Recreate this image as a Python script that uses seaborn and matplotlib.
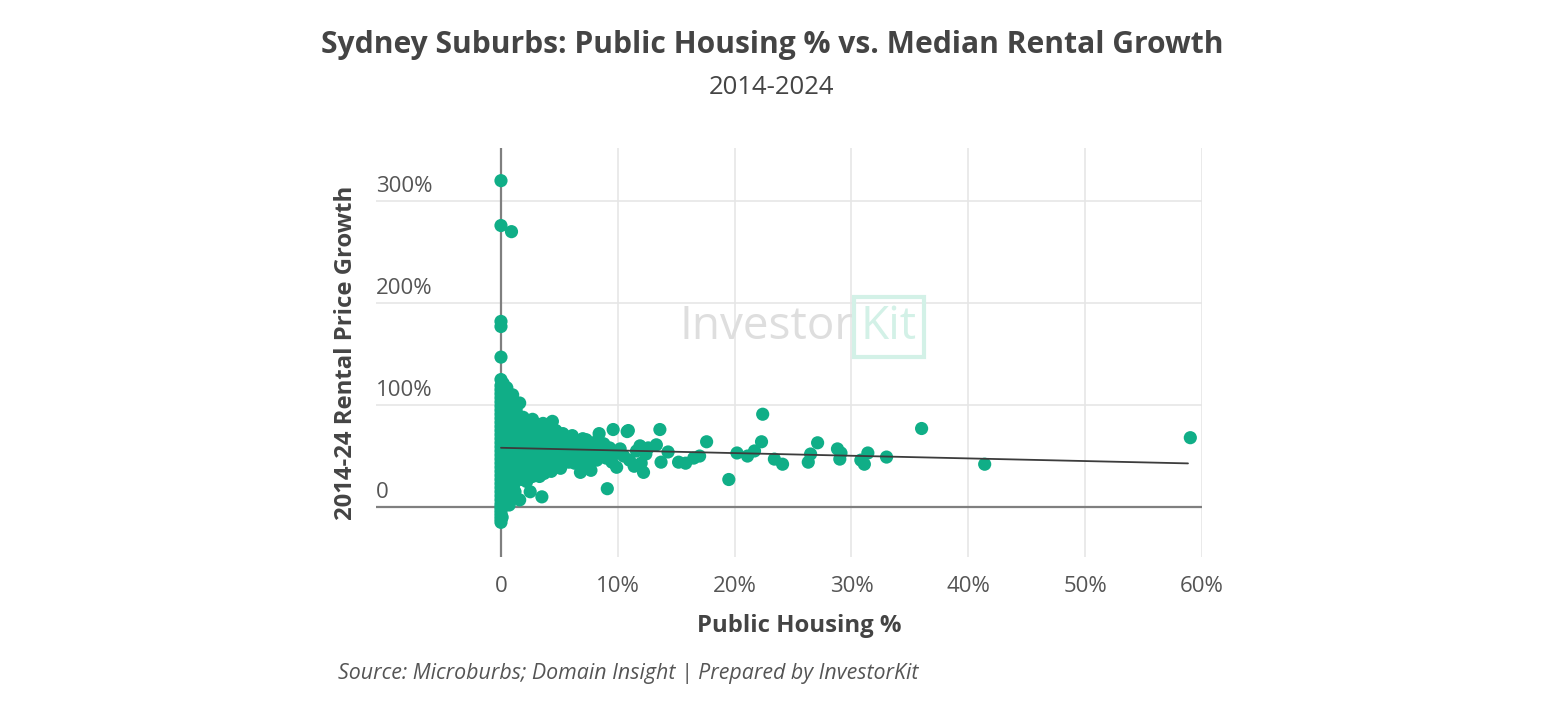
import numpy as np
import pandas as pd
import matplotlib
matplotlib.use('Agg')
import matplotlib.pyplot as plt
import matplotlib.transforms as mtransforms
import seaborn as sns

# Public housing share (%) and 2014-24 rental price growth (%) per suburb
housing_pct = [
    # outliers near zero
    0, 0, 0.9, 0, 0, 0, 0, 0.2,
    # suburbs with zero public housing
    0, 0, 0, 0, 0, 0, 0, 0, 0, 0, 0, 0, 0, 0, 0, 0, 0, 0,
    0, 0, 0, 0, 0, 0, 0, 0, 0, 0, 0, 0, 0, 0, 0, 0, 0, 0,
    # 0.1 - 0.5
    0.1, 0.3, 0.2, 0.4, 0.1, 0.3, 0.2, 0.4, 0.1, 0.3, 0.2, 0.4, 0.1, 0.3,
    0.2, 0.4, 0.1, 0.3, 0.2, 0.4, 0.3, 0.5,
    # 0.5 - 1.0
    0.6, 0.8, 0.5, 0.9, 0.7, 0.6, 0.9, 0.5, 0.8, 0.6, 0.9, 0.7, 0.5, 0.8,
    0.6, 0.9, 0.7, 1.0,
    0.5, 0.9, 1.2, 0.7, 1.0, 0.8, 1.3, 1.0, 0.7, 1.2, 0.5, 1.0,
    # 1.0 - 1.6
    1.1, 1.4, 1.2, 1.5, 1.1, 1.3, 1.6, 1.2, 1.4, 1.1, 1.5, 1.6, 1.6, 1.3,
    # 1.7 - 2.5
    1.8, 2.1, 1.9, 2.3, 2.0, 2.4, 1.8, 2.2, 2.5, 2.0, 2.5, 2.3, 1.9,
    1.7, 2.2, 2.6, 1.9, 2.4, 2.8, 1.6, 2.1, 2.7, 2.3, 2.9, 1.7,
    # 2.6 - 3.4
    2.7, 3.0, 3.3, 2.8, 3.1, 2.6, 3.4, 2.9, 3.2, 3.0, 2.7,
    # 3.5 - 4.5
    3.5, 3.7, 3.6, 4.0, 3.8, 4.3, 3.9, 4.2, 3.6, 4.4, 4.1, 4.5, 4.0,
    3.3, 3.5, 3.9, 4.2, 4.6, 3.2, 4.7, 3.4, 4.3, 4.8, 3.7, 4.5,
    # 4.6 - 6.0
    4.8, 5.2, 4.7, 5.5, 5.0, 5.3, 5.8, 5.6, 6.0, 4.9, 5.9, 5.1,
    5.4, 5.7, 6.2, 6.5, 5.0, 6.7, 6.1,
    # 6.1 - 8.0
    6.3, 6.8, 6.6, 7.1, 6.4, 7.0, 7.4, 7.7, 7.6, 7.9, 7.2, 6.9, 7.3,
    # 8.0 - 10.0
    8.2, 8.4, 8.6, 8.8, 9.1, 9.0, 9.3, 9.6, 9.5, 9.9, 9.8, 8.3,
    # 10.0 - 12.6
    10.2, 10.5, 10.9, 11.0, 11.4, 11.6, 11.9, 12.2, 12.0, 12.4, 12.6, 10.8,
    # sparse tail
    13.3, 13.6, 13.7, 14.3, 15.2, 15.8, 16.5, 17.0, 17.6, 19.5, 20.2, 21.1,
    21.7, 22.4, 22.3, 23.4, 24.1, 26.3, 26.5, 27.1, 28.8, 29.0, 29.1, 30.8,
    31.1, 31.4, 33.0, 36.0, 41.4, 59.0,
]
rent_growth = [
    320, 276, 270, 182, 177, 147, 125, 121,
    -15, -12, -9, -6, -3, 0, 3, 7, 11, 15, 19, 23, 27, 31, 35, 39, 43, 47,
    51, 55, 59, 63, 67, 71, 75, 79, 83, 87, 91, 95, 99, 103, 107, 111, 115, 119,
    -10, 2, 9, 14, 21, 26, 33, 38, 44, 49, 56, 61, 66, 72,
    78, 83, 88, 94, 100, 105, 112, 117,
    6, 18, 24, 30, 36, 42, 47, 53, 58, 64, 69, 75, 81, 86,
    92, 98, 105, 90,
    12, 10, 15, 2, 28, 40, 44, 60, 70, 82, 95, 110,
    22, 28, 35, 41, 48, 54, 60, 66, 72, 78, 84, 102, 7, 95,
    27, 33, 40, 46, 52, 58, 64, 70, 76, 83, 15, 38, 88,
    45, 25, 35, 55, 65, 55, 72, 78, 86, 50, 42, 35,
    30, 36, 43, 49, 55, 61, 67, 73, 80, 64, 44,
    10, 33, 40, 46, 52, 58, 64, 70, 82, 84, 38, 50, 76,
    30, 47, 57, 44, 62, 74, 75, 59, 35, 48, 68, 56,
    41, 47, 54, 60, 66, 72, 44, 53, 57, 62, 65, 38,
    51, 67, 46, 55, 42, 64, 70,
    43, 34, 50, 56, 62, 67, 45, 36, 52, 60, 64, 40, 66,
    46, 72, 54, 62, 18, 48, 58, 76, 44, 39, 53, 66,
    57, 50, 75, 46, 40, 55, 60, 34, 43, 52, 58, 74,
    61, 76, 44, 54, 44, 43, 48, 50, 64, 27, 53, 50,
    55, 91, 64, 47, 42, 44, 52, 63, 57, 47, 53, 46,
    42, 53, 49, 77, 42, 68,
]

# trend line
trend_x = [0, 58.8]
trend_y = [58.1, 42.8]

x_ticks = [0, 10, 20, 30, 40, 50, 60]
y_ticks = [0, 100, 200, 300]

df = pd.DataFrame({'housing': housing_pct, 'growth': rent_growth})

sns.set_theme(style='white')
plt.rcParams['font.family'] = ['Open Sans', 'DejaVu Sans']

fig = plt.figure(figsize=(15.44, 7.27), dpi=100)
ax = fig.add_axes([0.2435, 0.2338, 0.535, 0.5626])

# grid
for xv in x_ticks:
    ax.axvline(xv, color='#e6e6e6', lw=1.2, zorder=0)
for yv in y_ticks:
    ax.axhline(yv, color='#e6e6e6', lw=1.2, zorder=0)
ax.axhline(0, color='#7f7f7f', lw=1.6, zorder=1)
ax.axvline(0, color='#7f7f7f', lw=1.6, zorder=1)

sns.scatterplot(data=df, x='housing', y='growth', ax=ax, color='#10ae87',
                s=90, edgecolor='none', linewidth=0, zorder=3)
ax.plot(trend_x, trend_y, color='#3c3c3c', lw=1.3, zorder=4)

ax.set_xlim(-10.7, 60)
ax.set_ylim(-49, 352)
for s in ax.spines.values():
    s.set_visible(False)

ax.set_xticks(x_ticks)
ax.set_xticklabels(['0' if v == 0 else f'{v}%' for v in x_ticks],
                   fontsize=16, color='#555555')
ax.tick_params(axis='x', length=0, pad=14)
ax.set_yticks([])

# y labels sit above their grid lines, left aligned
trans = mtransforms.blended_transform_factory(ax.transAxes, ax.transData)
offset = mtransforms.offset_copy(trans, fig=fig, x=0, y=3, units='points')
for yv in y_ticks:
    ax.text(0.0, yv, '0' if yv == 0 else f'{yv}%', transform=offset,
            ha='left', va='bottom', fontsize=16, color='#555555')

ax.set_xlabel('Public Housing %', fontsize=17.2, fontweight='bold',
              color='#444444')
ax.xaxis.set_label_coords(0.512, -0.14)
ax.set_ylabel('2014-24 Rental Price Growth', fontsize=17.2, fontweight='bold',
              color='#444444')
ax.yaxis.set_label_coords(-0.022, 0.5)

# watermark
ax.text(0.368, 0.562, 'Investor', transform=ax.transAxes, fontsize=33,
        color='#dedede', ha='left', va='center', zorder=2)
ax.text(0.621, 0.562, 'Kit', transform=ax.transAxes, fontsize=33,
        color='#d3f1e7', ha='center', va='center', zorder=2,
        bbox=dict(boxstyle='square,pad=0.15', fc='none', ec='#d3f1e7', lw=3))

fig.text(0.5, 0.938, 'Sydney Suburbs: Public Housing % vs. Median Rental Growth',
         ha='center', va='center', fontsize=21.6, fontweight='bold', color='#444444')
fig.text(0.5, 0.879, '2014-2024', ha='center', va='center', fontsize=18.5,
         color='#444444')
fig.text(0.219, 0.073, 'Source: Microburbs; Domain Insight | Prepared by InvestorKit',
         ha='left', va='center', fontsize=15.4, style='italic', color='#555555')

fig.savefig('out.png', dpi=100, facecolor='white')
